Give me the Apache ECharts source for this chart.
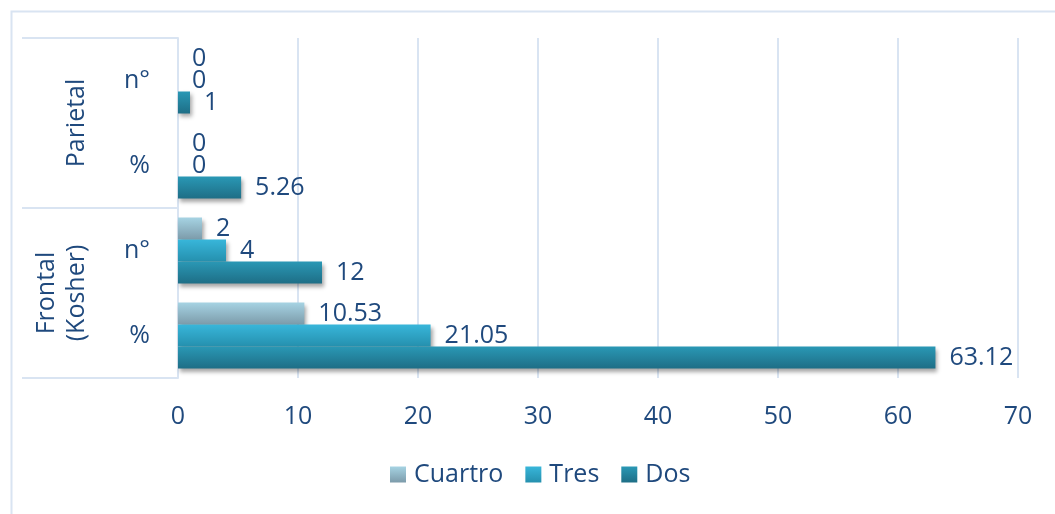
<!DOCTYPE html>
<html>
<head>
<meta charset="utf-8">
<script src="https://cdn.jsdelivr.net/npm/echarts@6/dist/echarts.min.js"></script>
<style>
html,body{margin:0;padding:0;background:#fff;}
#chart{width:1055px;height:514px;}
</style>
</head>
<body>
<div id="chart"></div>
<script>
var categories = ['%', 'n°', '%', 'n°'];
var groups = ['Frontal\n(Kosher)', 'Parietal'];
var dos = [63.12, 12, 5.26, 1];
var tres = [21.05, 4, 0, 0];
var cuartro = [10.53, 2, 0, 0];
var xTicks = { min: 0, max: 70, interval: 10 };

var txt = '#1F497D';
var gridC = '#D9E4F2';
var font = "'Open Sans', sans-serif";
var fs = 25;

function grad(a, b) {
  return new echarts.graphic.LinearGradient(0, 0, 0, 1, [
    { offset: 0, color: a }, { offset: 1, color: b }
  ]);
}
function mk(name, data, c1, c2) {
  return {
    name: name, type: 'bar', data: data, barWidth: 22, barGap: '0%',
    itemStyle: {
      color: grad(c1, c2),
      shadowColor: 'rgba(0,0,0,0.35)', shadowBlur: 4, shadowOffsetX: 2, shadowOffsetY: 3
    },
    label: { show: true, position: 'right', distance: 14, color: txt, fontSize: fs, fontFamily: font }
  };
}

var chart = echarts.init(document.getElementById('chart'));
chart.setOption({
  animation: false,
  backgroundColor: '#fff',
  textStyle: { fontFamily: font },
  graphic: [{
    type: 'rect', left: 9, top: 9,
    shape: { x: 0, y: 0, width: 1100, height: 600 },
    style: { fill: 'none', stroke: gridC, lineWidth: 2 }
  }],
  grid: { left: 178, right: 37, top: 38, bottom: 136, containLabel: false },
  legend: {
    data: ['Cuartro', 'Tres', 'Dos'], bottom: 22, left: 385, icon: 'rect',
    itemWidth: 16, itemHeight: 16, itemGap: 22,
    textStyle: { color: txt, fontSize: fs, fontFamily: font, padding: [0, 0, 0, 3] }
  },
  xAxis: {
    type: 'value', min: xTicks.min, max: xTicks.max, interval: xTicks.interval,
    axisLine: { show: false }, axisTick: { show: false },
    axisLabel: { color: txt, fontSize: fs, margin: 26, fontFamily: font },
    splitLine: { lineStyle: { color: gridC, width: 2 } }
  },
  yAxis: [{
    type: 'category', data: categories, position: 'left',
    axisLine: { lineStyle: { color: gridC, width: 2 } },
    axisTick: { show: false },
    axisLabel: { color: txt, fontSize: fs, margin: 28, fontFamily: font }
  }, {
    type: 'category', data: groups, position: 'left', boundaryGap: true,
    axisLine: { show: false },
    axisTick: { show: true, length: 156, interval: 0, lineStyle: { color: gridC, width: 2 } },
    axisLabel: { color: txt, fontSize: fs, margin: 86, rotate: 90, lineHeight: 30, fontFamily: font, interval: 0 }
  }],
  series: [
    mk('Cuartro', cuartro, '#A6D3E3', '#7C9BAA'),
    mk('Tres', tres, '#38B6DA', '#2590AE'),
    mk('Dos', dos, '#2A98B5', '#1E6E86')
  ]
});
</script>
</body>
</html>
